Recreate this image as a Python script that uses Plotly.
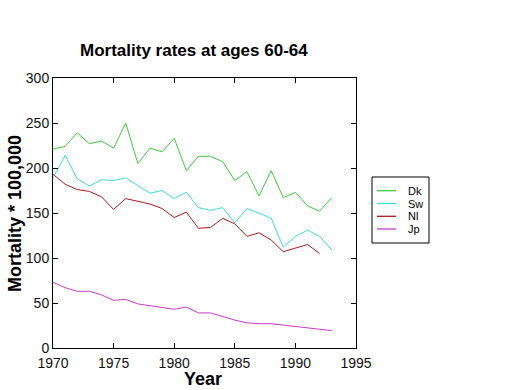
import plotly.graph_objects as go

years = list(range(1970, 1994))
dk = [221, 224, 239, 227, 230, 222, 250, 205, 222, 218, 233, 197, 213, 213, 207, 186, 196, 169, 197, 167, 173, 158, 152, 167]
sw = [189, 214, 188, 180, 187, 186, 189, 180, 172, 175, 166, 173, 156, 153, 156, 139, 155, 150, 144, 112, 124, 131, 124, 109]
nl = [193, 182, 176, 174, 168, 154, 166, 163, 160, 155, 145, 151, 133, 134, 144, 138, 124, 128, 120, 107, 111, 115, 105]
jp = [73, 67, 63, 63, 59, 53, 54, 49, 47, 45, 43, 45.5, 39, 39, 35, 31, 28, 27, 27, 25.6, 23.7, 22, 20.7, 19.3]

names = ["Dk", "Sw", "Nl", "Jp"]
colors = ["#3ccc3c", "#3ddcdc", "#b01818", "#c83cc8"]
series = [dk, sw, nl, jp]

W, H = 520, 390
L, R, T, B = 53, 356, 78, 348  # plot box in pixels
pw, ph = R - L, B - T

def px(x):
    return (x - L) / pw

def py(y):
    return (B - y) / ph

fig = go.Figure()
for name, col, vals in zip(names, colors, series):
    fig.add_trace(go.Scatter(x=years[:len(vals)], y=vals, mode="lines", name=name,
                             line=dict(color=col, width=1), showlegend=False,
                             hoverinfo="skip"))

font = "Liberation Sans, Arial, sans-serif"
axis_common = dict(showline=True, linecolor="black", linewidth=1, mirror="ticks",
                   ticks="inside", ticklen=5, tickcolor="black", showgrid=False,
                   zeroline=False, automargin=False,
                   tickfont=dict(family=font, size=14, color="#111"))

shapes = [dict(type="rect", xref="paper", yref="paper", x0=px(372), x1=px(429),
               y0=py(243), y1=py(177), line=dict(color="black", width=1),
               fillcolor="white", layer="above")]
annotations = []
row_y = [190.7, 203.5, 216.3, 229]
for name, col, ry in zip(names, colors, row_y):
    shapes.append(dict(type="line", xref="paper", yref="paper", x0=px(377), x1=px(396),
                       y0=py(ry), y1=py(ry), line=dict(color=col, width=1.3)))
    annotations.append(dict(text=name, xref="paper", yref="paper", x=px(406), y=py(ry),
                            xanchor="left", yanchor="middle", showarrow=False,
                            font=dict(family=font, size=11, color="black")))

annotations.append(dict(text="<b>Year</b>", xref="paper", yref="paper", x=px(203), y=py(379),
                        xanchor="center", yanchor="middle", showarrow=False,
                        font=dict(family=font, size=18, color="black")))
annotations.append(dict(text="<b>Mortality * 100,000</b>", xref="paper", yref="paper",
                        x=px(15), y=py(214), xanchor="center", yanchor="middle",
                        textangle=-90, showarrow=False,
                        font=dict(family=font, size=18, color="black")))
annotations.append(dict(text="<b>Mortality rates at ages 60-64</b>", xref="paper", yref="paper",
                        x=px(193.5), y=py(51), xanchor="center", yanchor="middle",
                        showarrow=False,
                        font=dict(family=font, size=17, color="black")))

fig.update_layout(
    width=W, height=H,
    paper_bgcolor="white", plot_bgcolor="white",
    margin=dict(l=L, r=W - R, t=T, b=H - B),
    showlegend=False,
    hovermode=False,
    shapes=shapes,
    annotations=annotations,
    xaxis=dict(range=[1970, 1995], tickvals=[1970, 1975, 1980, 1985, 1990, 1995],
               ticklabelstandoff=2, **axis_common),
    yaxis=dict(range=[0, 300], tickvals=[0, 50, 100, 150, 200, 250, 300], **axis_common),
)

fig.write_html("out.html", config={"displayModeBar": False, "staticPlot": True},
               post_script="document.body.style.margin='0';document.body.style.overflow='hidden';")
